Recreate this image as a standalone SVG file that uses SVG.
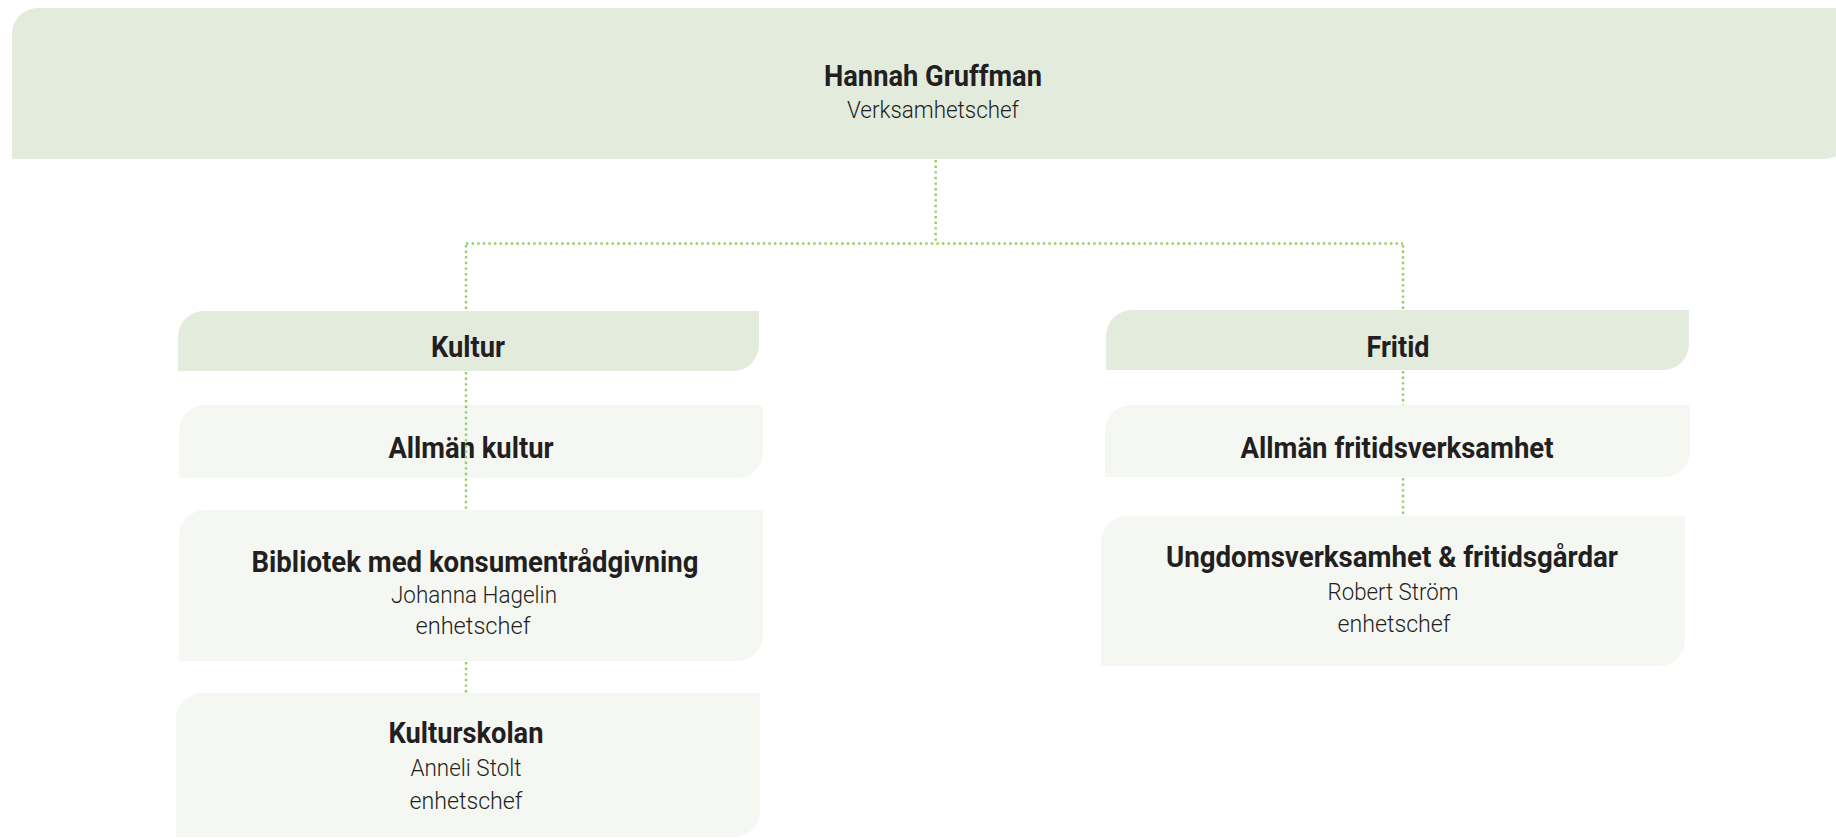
<svg xmlns="http://www.w3.org/2000/svg" width="1836" height="838" viewBox="0 0 1836 838">
<style>
.hd{fill:#e2ebdc}
.sb{fill:#f5f7f2}
.t{font-family:Roboto,"Liberation Sans",sans-serif;font-weight:700;font-size:30px;fill:#231f20;text-anchor:middle}
.s{font-family:Roboto,"Liberation Sans",sans-serif;font-weight:300;font-size:24px;fill:#231f20;text-anchor:middle}
.c{stroke:#93cf63;stroke-width:2.4;stroke-dasharray:2.4 3.2;fill:none}
</style>
<rect width="1836" height="838" fill="#ffffff"/>
<g id="n-hannah">
<path class="hd" d="M12 34 A26 26 0 0 1 38 8 H1850 V133 A26 26 0 0 1 1824 159 H12 Z"/>
<text class="t" x="933" y="86" font-size="28" textLength="218" lengthAdjust="spacingAndGlyphs">Hannah Gruffman</text>
<text class="s" x="933" y="118" textLength="172" lengthAdjust="spacingAndGlyphs">Verksamhetschef</text>
</g>
<g id="n-kultur">
<path class="hd" d="M178 337 A26 26 0 0 1 204 311 H759 V345 A26 26 0 0 1 733 371 H178 Z"/>
<text class="t" x="468" y="357" textLength="74" lengthAdjust="spacingAndGlyphs">Kultur</text>
</g>
<g id="n-allman-kultur">
<path class="sb" d="M179 431 A26 26 0 0 1 205 405 H763 V452 A26 26 0 0 1 737 478 H179 Z"/>
<text class="t" x="471" y="458" textLength="165" lengthAdjust="spacingAndGlyphs">Allmän kultur</text>
</g>
<g id="n-bibliotek">
<path class="sb" d="M179 536 A26 26 0 0 1 205 510 H763 V635 A26 26 0 0 1 737 661 H179 Z"/>
<text class="t" x="475" y="572" textLength="447" lengthAdjust="spacingAndGlyphs">Bibliotek med konsumentrådgivning</text>
<text class="s" x="474" y="603" textLength="166" lengthAdjust="spacingAndGlyphs">Johanna Hagelin</text>
<text class="s" x="473" y="634" textLength="115" lengthAdjust="spacingAndGlyphs">enhetschef</text>
</g>
<g id="n-kulturskolan">
<path class="sb" d="M176 719 A26 26 0 0 1 202 693 H760 V811 A26 26 0 0 1 734 837 H176 Z"/>
<text class="t" x="466" y="743" textLength="155" lengthAdjust="spacingAndGlyphs">Kulturskolan</text>
<text class="s" x="466" y="776" textLength="111" lengthAdjust="spacingAndGlyphs">Anneli Stolt</text>
<text class="s" x="466" y="809" textLength="113" lengthAdjust="spacingAndGlyphs">enhetschef</text>
</g>
<g id="n-fritid">
<path class="hd" d="M1106 336 A26 26 0 0 1 1132 310 H1689 V344 A26 26 0 0 1 1663 370 H1106 Z"/>
<text class="t" x="1398" y="357" textLength="63" lengthAdjust="spacingAndGlyphs">Fritid</text>
</g>
<g id="n-allman-fritid">
<path class="sb" d="M1105 431 A26 26 0 0 1 1131 405 H1690 V451 A26 26 0 0 1 1664 477 H1105 Z"/>
<text class="t" x="1397" y="458" textLength="313" lengthAdjust="spacingAndGlyphs">Allmän fritidsverksamhet</text>
</g>
<g id="n-ungdom">
<path class="sb" d="M1101 542 A26 26 0 0 1 1127 516 H1685 V640 A26 26 0 0 1 1659 666 H1101 Z"/>
<text class="t" x="1392" y="567" textLength="452" lengthAdjust="spacingAndGlyphs">Ungdomsverksamhet &amp; fritidsgårdar</text>
<text class="s" x="1393" y="600" textLength="131" lengthAdjust="spacingAndGlyphs">Robert Ström</text>
<text class="s" x="1394" y="632" textLength="113" lengthAdjust="spacingAndGlyphs">enhetschef</text>
</g>
<g id="connectors">
<path class="c" d="M935.7 160 V243.5"/>
<path class="c" d="M466 243.5 H1403"/>
<path class="c" d="M466 245 V311"/>
<path class="c" d="M466 372 V510"/>
<path class="c" d="M466 662 V693"/>
<path class="c" d="M1403 245 V310"/>
<path class="c" d="M1403 371 V405"/>
<path class="c" d="M1403 478 V516"/>
</g>
</svg>
